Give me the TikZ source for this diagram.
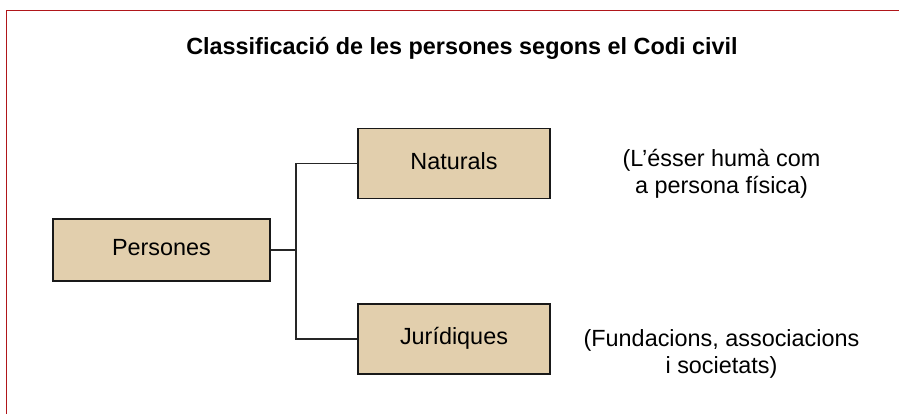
\documentclass[tikz,border=0pt]{standalone}
\usepackage{fontspec}
\setmainfont{Liberation Sans}
\definecolor{caixafons}{HTML}{E2CFAD}
\definecolor{marcvermell}{HTML}{B0161A}
\tikzset{
  caixa/.style={draw=black!90, line width=1.5pt, fill=caixafons,
    minimum width=192pt, minimum height=70pt, text height=16.8pt, text depth=4.9pt},
  nota/.style={align=center, inner sep=0pt, anchor=base},
  lligam/.style={draw=black!85, line width=1.4pt}
}
\begin{document}
\begin{tikzpicture}[x=1pt,y=-1pt,font=\fontsize{23.4}{27.5}\selectfont]
\useasboundingbox (0,0) rectangle (899,414);
\draw[marcvermell, line width=1.5pt] (6.5,414) |- (899,10.5);
\node[nota, font=\fontsize{23.4}{27.5}\selectfont\bfseries] (titol) at (462,55)
  {Classificació de les persones segons el Codi civil};
\node[caixa, minimum width=217pt, minimum height=62pt] (pers) at (161.5,250) {Persones};
\node[caixa] (nat) at (454,163.5) {Naturals};
\node[caixa] (jur) at (454,339) {Jurídiques};
\coordinate (branca) at (296,250);
\draw[lligam] (pers.east) -- (branca);
\draw[lligam] (nat.west) -| (branca) |- (jur.west);
% base = last line of each note
\node[nota] (natnota) at (721.5,193.5) {(L’ésser humà com\\a persona física)};
\node[nota] (jurnota) at (721.5,373.5) {(Fundacions, associacions\\i societats)};
\end{tikzpicture}
\end{document}
